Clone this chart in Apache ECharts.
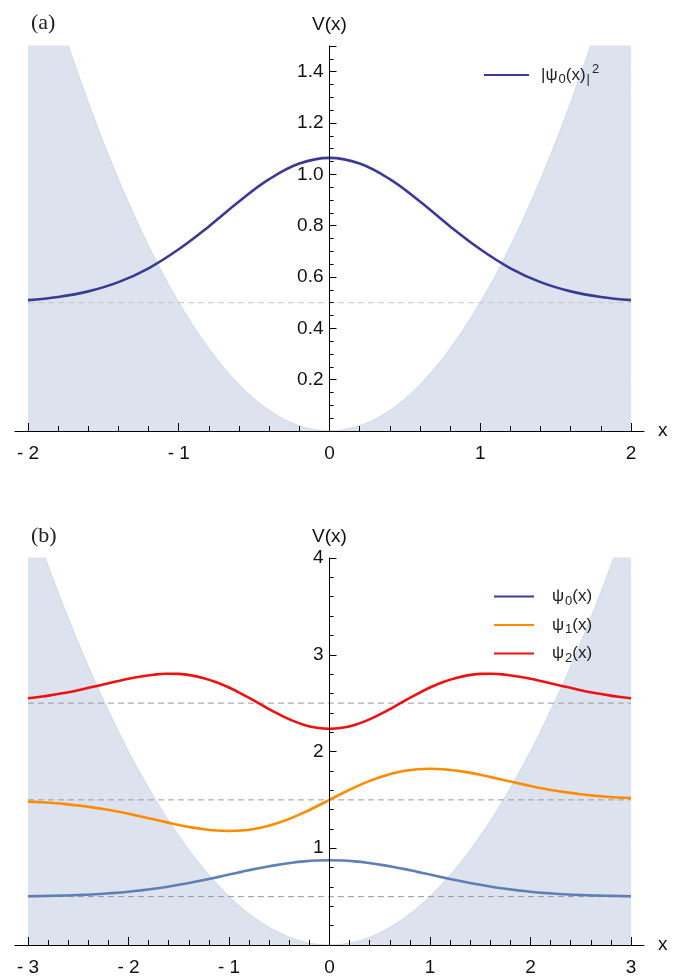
<!DOCTYPE html>
<html>
<head>
<meta charset="utf-8">
<script src="https://cdn.jsdelivr.net/npm/echarts@6/dist/echarts.min.js"></script>
<style>
  html, body { margin: 0; padding: 0; background: #fff; }
  #chart { width: 680px; height: 977px; }
</style>
</head>
<body>
<div id="chart"></div>
<script>
// panel (a): ground state density on top of V(x) = x^2/2
const xA = [-2, -1.8, -1.6, -1.4, -1.2, -1, -0.8, -0.6, -0.4, -0.2, 0, 0.2, 0.4, 0.6, 0.8, 1, 1.2, 1.4, 1.6, 1.8, 2]
const densityA = [0.510, 0.522, 0.544, 0.580, 0.634, 0.708, 0.797, 0.894, 0.981, 1.042, 1.064, 1.042, 0.981, 0.894, 0.797, 0.708, 0.634, 0.580, 0.544, 0.522, 0.510]
const potentialA = [2.0, 1.62, 1.28, 0.98, 0.72, 0.5, 0.32, 0.18, 0.08, 0.02, 0, 0.02, 0.08, 0.18, 0.32, 0.5, 0.72, 0.98, 1.28, 1.62, 2.0]
const levelsA = [0.5]
const xTicksA = [-2, -1, 0, 1, 2]
const xMinorA = [-1.8, -1.6, -1.4, -1.2, -0.8, -0.6, -0.4, -0.2, 0.2, 0.4, 0.6, 0.8, 1.2, 1.4, 1.6, 1.8]
const yTicksA = [0.2, 0.4, 0.6, 0.8, 1.0, 1.2, 1.4]

// panel (b): first three states, shifted to their levels
const xB = [-3, -2.875, -2.75, -2.625, -2.5, -2.375, -2.25, -2.125, -2, -1.875, -1.75, -1.625, -1.5, -1.375, -1.25, -1.125,
    -1, -0.875, -0.75, -0.625, -0.5, -0.375, -0.25, -0.125, 0, 0.125, 0.25, 0.375, 0.5, 0.625, 0.75, 0.875,
    1, 1.125, 1.25, 1.375, 1.5, 1.625, 1.75, 1.875, 2, 2.125, 2.25, 2.375, 2.5, 2.625, 2.75, 2.875, 3]
const psi0B = [0.504, 0.506, 0.509, 0.512, 0.517, 0.522, 0.530, 0.539, 0.551, 0.565, 0.581, 0.600, 0.622, 0.646, 0.672, 0.699,
    0.728, 0.756, 0.784, 0.809, 0.831, 0.850, 0.864, 0.873, 0.876, 0.873, 0.864, 0.850, 0.831, 0.809, 0.784, 0.756,
    0.728, 0.699, 0.672, 0.646, 0.622, 0.600, 0.581, 0.565, 0.551, 0.539, 0.530, 0.522, 0.517, 0.512, 0.509, 0.506, 0.504]
const psi1B = [1.482, 1.476, 1.467, 1.456, 1.442, 1.425, 1.405, 1.382, 1.356, 1.328, 1.299, 1.270, 1.241, 1.216, 1.196, 1.183,
    1.178, 1.183, 1.199, 1.227, 1.266, 1.314, 1.371, 1.434, 1.5, 1.566, 1.629, 1.686, 1.734, 1.773, 1.801, 1.817,
    1.822, 1.817, 1.804, 1.784, 1.759, 1.730, 1.701, 1.672, 1.644, 1.618, 1.595, 1.575, 1.558, 1.544, 1.533, 1.524, 1.518]
const psi2B = [2.550, 2.566, 2.586, 2.608, 2.634, 2.663, 2.693, 2.723, 2.752, 2.776, 2.794, 2.804, 2.802, 2.787, 2.758, 2.716,
    2.661, 2.596, 2.525, 2.452, 2.383, 2.322, 2.275, 2.245, 2.234, 2.245, 2.275, 2.322, 2.383, 2.452, 2.525, 2.596,
    2.661, 2.716, 2.758, 2.787, 2.802, 2.804, 2.794, 2.776, 2.752, 2.723, 2.693, 2.663, 2.634, 2.608, 2.586, 2.566, 2.550]
const potentialB = [4.5, 4.133, 3.781, 3.445, 3.125, 2.820, 2.531, 2.258, 2.0, 1.758, 1.531, 1.320, 1.125, 0.945, 0.781, 0.633,
    0.5, 0.383, 0.281, 0.195, 0.125, 0.070, 0.031, 0.008, 0, 0.008, 0.031, 0.070, 0.125, 0.195, 0.281, 0.383,
    0.5, 0.633, 0.781, 0.945, 1.125, 1.320, 1.531, 1.758, 2.0, 2.258, 2.531, 2.820, 3.125, 3.445, 3.781, 4.133, 4.5]
const levelsB = [0.5, 1.5, 2.5]
const xTicksB = [-3, -2, -1, 0, 1, 2, 3]
const xMinorB = [-2.8, -2.6, -2.4, -2.2, -1.8, -1.6, -1.4, -1.2, -0.8, -0.6, -0.4, -0.2,
    0.2, 0.4, 0.6, 0.8, 1.2, 1.4, 1.6, 1.8, 2.2, 2.4, 2.6, 2.8]
const yTicksB = [1, 2, 3, 4]

const zip = (xs, ys) => xs.map((x, i) => [x, ys[i]])

const SANS = 'Liberation Sans, Arial, sans-serif'
const SERIF = 'Liberation Serif, DejaVu Serif, serif'

// grid spans the full axis line; the data range sits inside it
const GRID_LEFT = 15
const GRID_W = 629
const Y_OFFSET = -GRID_W / 2

const NAVY = '#3a3a94'
const BLUE = '#5e81b5'
const ORANGE = '#ff8c00'
const RED = '#ee1111'

const legendRich = {
    n: { fontSize: 17, fontFamily: SANS, color: '#222' },
    sub: { fontSize: 13, fontFamily: SANS, color: '#222', padding: [9, 0, 0, 1] },
    sup: { fontSize: 13, fontFamily: SANS, color: '#222', padding: [0, 0, 11, 2] }
}
const legendText = {
    psiSq: '{n||ψ}{sub|0}{n|(x)}{sub||}{sup|2}',
    psi0: '{n|ψ}{sub|0}{n|(x)}',
    psi1: '{n|ψ}{sub|1}{n|(x)}',
    psi2: '{n|ψ}{sub|2}{n|(x)}'
}

function xLabel(v) {
    return v < 0 ? '- ' + (-v) : String(v)
}

// major ticks, labels, axis line and the "x" name
function mainX(grid, lo, hi, ticks) {
    return {
        type: 'value', gridIndex: grid, min: lo, max: hi, position: 'bottom', z: 10,
        axisLine: { show: true, onZero: false, lineStyle: { color: '#000', width: 1 } },
        axisTick: { inside: true, length: 8, customValues: ticks, lineStyle: { color: '#000' } },
        axisLabel: { customValues: ticks, formatter: xLabel, margin: 13, fontSize: 19, fontFamily: SANS, color: '#111' },
        splitLine: { show: false },
        name: 'x', nameLocation: 'end', nameGap: 14,
        nameTextStyle: { fontSize: 19, fontFamily: SANS, color: '#111', verticalAlign: 'middle' }
    }
}

function minorX(grid, lo, hi, ticks) {
    return {
        type: 'value', gridIndex: grid, min: lo, max: hi, position: 'bottom', z: 10,
        axisLine: { show: false, onZero: false },
        axisTick: { inside: true, length: 5, customValues: ticks, lineStyle: { color: '#000' } },
        axisLabel: { show: false },
        splitLine: { show: false }
    }
}

function mainY(grid, max, interval, ticks, fmt, minorSplit) {
    return {
        type: 'value', gridIndex: grid, min: 0, max: max, interval: interval, position: 'left', offset: Y_OFFSET, z: 10,
        axisLine: { show: true, onZero: false, lineStyle: { color: '#000', width: 1 } },
        axisTick: { inside: true, length: 7, lineStyle: { color: '#000' } },
        minorTick: { show: minorSplit > 0, splitNumber: minorSplit || 5, length: 4, lineStyle: { color: '#000' } },
        axisLabel: {
            margin: 6, fontSize: 19, fontFamily: SANS, color: '#111',
            formatter: v => ticks.some(t => Math.abs(t - v) < 1e-6) ? fmt(v) : ''
        },
        splitLine: { show: false },
        name: 'V(x)', nameLocation: 'end', nameGap: 12,
        nameTextStyle: { fontSize: 19, fontFamily: SANS, color: '#111', align: 'center' }
    }
}

function potentialSeries(xi, yi, xs, ys) {
    return {
        type: 'line', xAxisIndex: xi, yAxisIndex: yi, data: zip(xs, ys),
        smooth: 0.4, symbol: 'none', silent: true, z: 1,
        lineStyle: { color: '#d3dcec', width: 1.2 },
        areaStyle: { color: '#dde3ee', opacity: 1, origin: 'start' }
    }
}

function levelSeries(xi, yi, lo, hi, level, color) {
    return {
        type: 'line', xAxisIndex: xi, yAxisIndex: yi, data: [[lo, level], [hi, level]],
        symbol: 'none', silent: true, z: 2,
        lineStyle: { color: color, width: 1, type: [6, 4] }
    }
}

function stateSeries(name, xi, yi, xs, ys, color) {
    return {
        name: name, type: 'line', xAxisIndex: xi, yAxisIndex: yi, data: zip(xs, ys),
        smooth: 0.4, symbol: 'none', z: 3,
        lineStyle: { color: color, width: 2.6 },
        itemStyle: { color: color }
    }
}

// legend-only entry: the key colour differs from the drawn curve.
// one empty (null) point so the series gets its visual style, nothing is drawn
function keySeries(name, xi, yi, color) {
    return {
        name: name, type: 'line', xAxisIndex: xi, yAxisIndex: yi, data: [[0, null]],
        symbol: 'none', silent: true, lineStyle: { color: color, width: 1.3 }, itemStyle: { color: color }
    }
}

const chart = echarts.init(document.getElementById('chart'), null, { renderer: 'canvas' })

chart.setOption({
    animation: false,
    backgroundColor: '#fff',
    title: [
        { text: '(a)', left: 26, top: 7, textStyle: { fontFamily: SERIF, fontWeight: 'normal', fontSize: 22, color: '#222' } },
        { text: '(b)', left: 26, top: 520, textStyle: { fontFamily: SERIF, fontWeight: 'normal', fontSize: 22, color: '#222' } }
    ],
    grid: [
        { left: GRID_LEFT, width: GRID_W, top: 46, bottom: 546 },
        { left: GRID_LEFT, width: GRID_W, top: 558, bottom: 32 }
    ],
    legend: [
        {
            data: ['keySq'],
            left: 478, top: 58, itemWidth: 45, itemHeight: 12,
            itemStyle: { opacity: 0, borderWidth: 0 },
            formatter: () => legendText.psiSq,
            textStyle: { rich: legendRich, padding: [0, 0, 0, 7] }
        },
        {
            data: ['key0', 'key1', 'key2'],
            orient: 'vertical', left: 488, top: 583, itemWidth: 40, itemHeight: 12, itemGap: 9,
            itemStyle: { opacity: 0, borderWidth: 0 },
            formatter: n => legendText['psi' + n.slice(3)],
            textStyle: { rich: legendRich, padding: [0, 0, 0, 13] }
        }
    ],
    xAxis: [
        mainX(0, -2.086, 2.086, xTicksA),
        minorX(0, -2.086, 2.086, xMinorA),
        mainX(1, -3.129, 3.129, xTicksB),
        minorX(1, -3.129, 3.129, xMinorB)
    ],
    yAxis: [
        mainY(0, 1.5, 0.2, yTicksA, v => v.toFixed(1), 0),
        {
            type: 'value', gridIndex: 0, min: 0, max: 1.5, interval: 0.05, position: 'left', offset: Y_OFFSET, z: 10,
            axisLine: { show: false, onZero: false },
            axisTick: { inside: true, length: 4, lineStyle: { color: '#000' } },
            axisLabel: { show: false },
            splitLine: { show: false }
        },
        mainY(1, 4, 1, yTicksB, v => String(v), 5)
    ],
    series: [
        potentialSeries(0, 0, xA, potentialA),
        ...levelsA.map(l => levelSeries(0, 0, -2, 2, l, '#c4c4c4')),
        stateSeries('psiSq', 0, 0, xA, densityA, NAVY),
        keySeries('keySq', 0, 0, NAVY),

        potentialSeries(2, 2, xB, potentialB),
        ...levelsB.map(l => levelSeries(2, 2, -3, 3, l, '#9a9a9a')),
        stateSeries('psi0', 2, 2, xB, psi0B, BLUE),
        stateSeries('psi1', 2, 2, xB, psi1B, ORANGE),
        stateSeries('psi2', 2, 2, xB, psi2B, RED),
        keySeries('key0', 2, 2, NAVY),
        keySeries('key1', 2, 2, ORANGE),
        keySeries('key2', 2, 2, RED)
    ]
})
</script>
</body>
</html>
